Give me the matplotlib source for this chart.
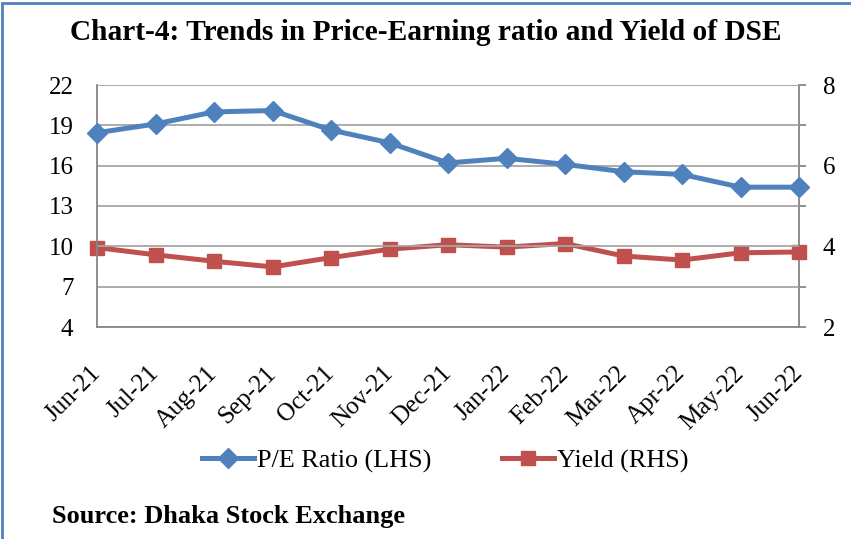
import matplotlib
matplotlib.use("Agg")
import matplotlib.pyplot as plt
from matplotlib.lines import Line2D
from matplotlib.patches import Rectangle

months = ["Jun-21", "Jul-21", "Aug-21", "Sep-21", "Oct-21", "Nov-21", "Dec-21",
          "Jan-22", "Feb-22", "Mar-22", "Apr-22", "May-22", "Jun-22"]
pe_ratio = [18.45, 19.1, 20.0, 20.1, 18.65, 17.7, 16.2, 16.55, 16.1, 15.55, 15.35, 14.4, 14.4]
yield_pct = [3.97, 3.79, 3.63, 3.49, 3.72, 3.93, 4.04, 3.98, 4.07, 3.76, 3.66, 3.84, 3.86]
left_ticks = [4, 7, 10, 13, 16, 19, 22]
right_ticks = [2, 3, 4, 5, 6, 7, 8]
right_labels = ["2", "", "4", "", "6", "", "8"]

plt.rcParams['font.family'] = ['Liberation Serif', 'DejaVu Serif']

BLUE = "#4F81BD"
RED = "#C0504D"
GRID = "#A6A6A6"
SPINE = "#868686"

W, H = 851, 539
fig = plt.figure(figsize=(W / 100, H / 100), dpi=100)

x0, x1, y0, y1 = 97, 799, 85, 327
ax = fig.add_axes([x0 / W, 1 - y1 / H, (x1 - x0) / W, (y1 - y0) / H])
ax2 = ax.twinx()

xs = list(range(len(months)))
ax.plot(xs, pe_ratio, color=BLUE, lw=3.6, marker="D", ms=10.5, mec=BLUE, mfc=BLUE,
        solid_joinstyle="round", zorder=3, clip_on=False)
ax2.plot(xs, yield_pct, color=RED, lw=3.6, marker="s", ms=10, mec=RED, mfc=RED,
         solid_joinstyle="round", zorder=3, clip_on=False)

ax.set_xlim(0, len(months) - 1)
ax.set_ylim(4, 22)
ax.set_yticks(left_ticks)
ax.set_yticklabels([str(t) for t in left_ticks])
ax2.set_ylim(2, 8)
ax2.set_yticks(right_ticks)
ax2.set_yticklabels(right_labels)

ax.set_xticks(xs)
ax.set_xticklabels(months, rotation=45, ha="right", va="center", rotation_mode="anchor")

ax.grid(axis="y", color=GRID, lw=1.3)
ax.set_axisbelow(True)
for a in (ax, ax2):
    a.spines["top"].set_visible(False)
    for s in ("left", "right", "bottom"):
        a.spines[s].set_color(SPINE)
        a.spines[s].set_linewidth(1.3)
ax2.spines["left"].set_visible(False)
ax2.spines["bottom"].set_visible(False)
ax.spines["right"].set_visible(False)

ax.tick_params(axis="y", length=0, pad=17, labelsize=18)
ax.tick_params(axis="x", length=0, pad=31, labelsize=18)
ax2.tick_params(axis="y", length=5, width=1.3, color=SPINE, pad=12, labelsize=18)
ax.set_zorder(ax2.get_zorder() + 1)
ax.patch.set_visible(False)

fig.text(0.5, 1 - 33 / H, "Chart-4: Trends in Price-Earning ratio and Yield of DSE",
         ha="center", va="center", fontsize=21.2, fontweight="bold")

handles = [Line2D([], [], color=BLUE, lw=3.6, marker="D", ms=10),
           Line2D([], [], color=RED, lw=3.6, marker="s", ms=10)]
fig.legend(handles, ["P/E Ratio (LHS)", "Yield (RHS)"], loc="center",
           bbox_to_anchor=(445 / W, 1 - 461 / H), ncol=2, frameon=False,
           fontsize=18.8, handlelength=2.0, handletextpad=0.1, columnspacing=2.7)

fig.text(52 / W, 1 - 516 / H, "Source: Dhaka Stock Exchange", ha="left", va="center",
         fontsize=19, fontweight="bold")

fig.patches.append(Rectangle((2 / W, -0.05), 1.2, 1 - 3 / H + 0.05, transform=fig.transFigure,
                             fill=False, edgecolor=BLUE, lw=2, zorder=10))

fig.savefig("out.png", dpi=100)
